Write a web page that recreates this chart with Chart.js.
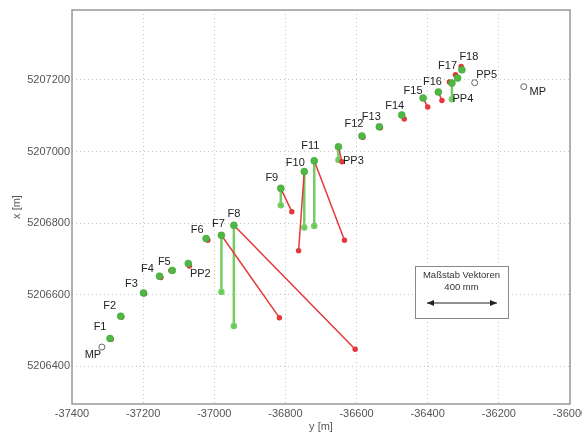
<!DOCTYPE html>
<html>
<head>
<meta charset="utf-8">
<script src="https://cdn.jsdelivr.net/npm/chart.js@4"></script>
<style>
  html, body { margin: 0; padding: 0; background: #fff; }
</style>
</head>
<body>
<canvas id="netzChart" width="582" height="436"></canvas>
<script>
// Netzpunkte: y = Ost [m], x = Nord [m]
const stations   = ['F1', 'F2', 'F3', 'F4', 'F5', 'PP2', 'F6', 'F7', 'F8', 'F9', 'F10', 'F11', 'PP3', 'F12', 'F13', 'F14', 'F15', 'F16', 'PP4', 'F17', 'F18'];
const stationY   = [-37293, -37263, -37199, -37154, -37118, -37073, -37023, -36980, -36945, -36813, -36747, -36719, -36651, -36585, -36536, -36473, -36413, -36370, -36332, -36316, -36304];
const stationX   = [5206478, 5206540, 5206605, 5206652, 5206668, 5206687, 5206757, 5206766, 5206794, 5206897, 5206944, 5206974, 5207013, 5207043, 5207069, 5207102, 5207149, 5207166, 5207191, 5207205, 5207228];

// Vektoren (Endpunkte in Kartenkoordinaten, vergroessert)
// gruen = Hoehenkomponente (senkrecht), rot = Lagekomponente
const greenEndX  = [null, null, null, null, null, null, null, 5206608, 5206513, 5206850, 5206788, 5206792, 5206976, null, null, null, null, null, 5207146, null, null];
const redEndY    = [-37290, -37260, -37196, -37150, -37122, -37070, -37018, -36817, -36604, -36782, -36763, -36634, -36641, -36582, -36533, -36466, -36400, -36360, -36339, -36322, -36306];
const redEndX    = [5206476, 5206538, 5206603, 5206648, 5206668, 5206680, 5206752, 5206536, 5206448, 5206832, 5206723, 5206752, 5206971, 5207040, 5207066, 5207091, 5207124, 5207142, 5207194, 5207214, 5207237];

// Festpunkte (offene Kreise)
const refNames   = ['MP', 'PP5', 'MP'];
const refY       = [-37316, -36268, -36130];
const refX       = [5206454, 5207192, 5207181];

const yTicks = [-37400, -37200, -37000, -36800, -36600, -36400, -36200, -36000];
const xTicks = [5206400, 5206600, 5206800, 5207000, 5207200];

// label offsets in pixels (style only)
const labelOffset = {
  F1: [-10, -11], F2: [-11, -10], F3: [-12, -9], F4: [-12, -7], F5: [-8, -8],
  PP2: [12, 10], F6: [-9, -9], F7: [-3, -11], F8: [0, -11], F9: [-9, -10],
  F10: [-9, -9], F11: [-4, -15], PP3: [15, 14], F12: [-8, -12], F13: [-8, -10],
  F14: [-7, -9], F15: [-10, -7], F16: [-6, -10], PP4: [11, 16], F17: [-10, -12],
  F18: [7, -13], PP5: [12, -8], MP: [-9, 8], MP2: [14, 5]
};

const FONT = '"Liberation Sans", Arial, sans-serif';
const GREEN = '#4fb845';
const GREEN_LINE = '#72cf62';
const RED = '#e5383b';

function vectorData(endY, endX, vertical) {
  const out = [];
  stations.forEach((s, i) => {
    const ex = endX[i];
    if (ex === null) return;
    out.push({ x: stationY[i], y: stationX[i] });
    out.push({ x: vertical ? stationY[i] : endY[i], y: ex });
    out.push({ x: NaN, y: NaN });
  });
  return out;
}

const pointData = stations.map((s, i) => ({ x: stationY[i], y: stationX[i] }));
const refData = refNames.map((s, i) => ({ x: refY[i], y: refX[i] }));

const labelPlugin = {
  id: 'netzLabels',
  afterDatasetsDraw(chart) {
    const { ctx, scales: { x, y } } = chart;
    ctx.save();
    ctx.font = '11px ' + FONT;
    ctx.fillStyle = '#222';
    ctx.textAlign = 'center';
    ctx.textBaseline = 'middle';
    stations.forEach((s, i) => {
      const o = labelOffset[s];
      ctx.fillText(s, x.getPixelForValue(stationY[i]) + o[0], y.getPixelForValue(stationX[i]) + o[1]);
    });
    refNames.forEach((s, i) => {
      const o = i === 2 ? labelOffset.MP2 : labelOffset[s];
      ctx.fillText(s, x.getPixelForValue(refY[i]) + o[0], y.getPixelForValue(refX[i]) + o[1]);
    });

    // Massstab box
    const a = chart.chartArea;
    const bx = a.right - 155, by = a.bottom - 138, bw = 93, bh = 52;
    ctx.fillStyle = '#fff';
    ctx.fillRect(bx, by, bw, bh);
    ctx.strokeStyle = '#888';
    ctx.lineWidth = 1;
    ctx.strokeRect(bx + 0.5, by + 0.5, bw, bh);
    ctx.fillStyle = '#333';
    ctx.font = '9.5px ' + FONT;
    ctx.fillText('Maßstab Vektoren', bx + bw / 2, by + 9);
    ctx.fillText('400 mm', bx + bw / 2, by + 21);
    const ay = by + 37, ax1 = bx + 12, ax2 = bx + 82;
    ctx.strokeStyle = '#222';
    ctx.beginPath();
    ctx.moveTo(ax1, ay); ctx.lineTo(ax2, ay);
    ctx.stroke();
    ctx.fillStyle = '#222';
    ctx.beginPath();
    ctx.moveTo(ax1, ay); ctx.lineTo(ax1 + 7, ay - 3); ctx.lineTo(ax1 + 7, ay + 3); ctx.closePath(); ctx.fill();
    ctx.beginPath();
    ctx.moveTo(ax2, ay); ctx.lineTo(ax2 - 7, ay - 3); ctx.lineTo(ax2 - 7, ay + 3); ctx.closePath(); ctx.fill();
    ctx.restore();
  },
  afterDraw(chart) {
    const { ctx, chartArea: a } = chart;
    ctx.save();
    ctx.strokeStyle = '#999';
    ctx.lineWidth = 1.5;
    ctx.strokeRect(a.left, a.top, a.right - a.left, a.bottom - a.top);
    ctx.restore();
  }
};

new Chart(document.getElementById('netzChart'), {
  type: 'scatter',
  data: {
    datasets: [
      {
        label: 'Punkte',
        data: pointData,
        backgroundColor: GREEN,
        borderColor: '#3a9a33',
        borderWidth: 0.5,
        pointRadius: 3.5,
        order: 0
      },
      {
        label: 'Festpunkte',
        data: refData,
        backgroundColor: '#fff',
        borderColor: '#666',
        borderWidth: 1,
        pointRadius: 3,
        order: 0
      },
      {
        label: 'Lage',
        data: vectorData(redEndY, redEndX, false),
        showLine: true,
        spanGaps: false,
        borderColor: RED,
        backgroundColor: RED,
        borderWidth: 1.5,
        pointRadius: ctx => (ctx.dataIndex % 3 === 1 ? 2 : 0),
        order: 1
      },
      {
        label: 'Hoehe',
        data: vectorData(null, greenEndX, true),
        showLine: true,
        spanGaps: false,
        borderColor: GREEN_LINE,
        backgroundColor: GREEN,
        borderWidth: 2.5,
        pointRadius: ctx => (ctx.dataIndex % 3 === 1 ? 2 : 0),
        order: 2
      }
    ]
  },
  options: {
    responsive: false,
    animation: false,
    devicePixelRatio: 1,
    layout: { padding: { left: 0, right: 12, top: 10, bottom: 0 } },
    plugins: { legend: { display: false }, tooltip: { enabled: false } },
    scales: {
      x: {
        type: 'linear',
        min: yTicks[0],
        max: yTicks[yTicks.length - 1],
        afterBuildTicks: s => { s.ticks = yTicks.map(v => ({ value: v })); },
        afterFit: s => { s.height = 32; s.paddingLeft = 0; s.paddingRight = 0; },
        ticks: {
          callback: v => String(v),
          font: { size: 11, family: FONT },
          color: '#555',
          padding: 3,
          maxRotation: 0,
          autoSkip: false
        },
        grid: { color: '#c4c4c4', drawTicks: false },
        border: { display: false, dash: [1, 3] },
        title: { display: true, text: 'y [m]', font: { size: 11, family: FONT }, color: '#555', padding: { top: 0, bottom: 2 } }
      },
      y: {
        type: 'linear',
        min: 5206295,
        max: 5207395,
        afterBuildTicks: s => { s.ticks = xTicks.map(v => ({ value: v })); },
        afterFit: s => { s.width = 72; s.paddingTop = 0; s.paddingBottom = 0; },
        ticks: {
          callback: v => String(v),
          font: { size: 11, family: FONT },
          color: '#555',
          padding: 2
        },
        grid: { color: '#c4c4c4', drawTicks: false },
        border: { display: false, dash: [1, 3] },
        title: { display: true, text: 'x [m]', font: { size: 11, family: FONT }, color: '#555', padding: { top: 10, bottom: 0 } }
      }
    }
  },
  plugins: [labelPlugin]
});
</script>
</body>
</html>
